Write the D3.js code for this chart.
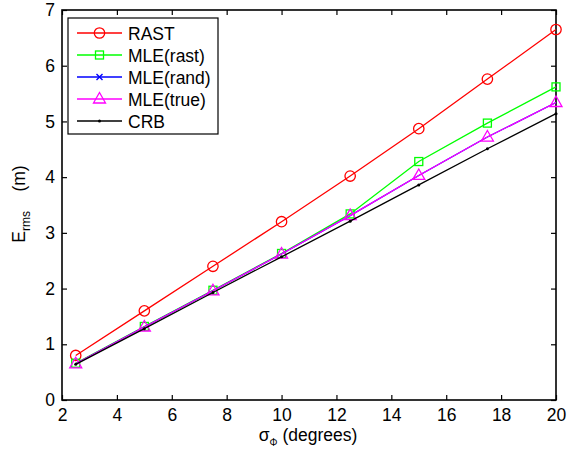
<!DOCTYPE html>
<html>
<head>
<meta charset="utf-8">
<script src="https://cdn.jsdelivr.net/npm/d3@7"></script>
<style>
body { margin: 0; background: #fff; }
text { font-family: "Liberation Sans", Arial, sans-serif; }
</style>
</head>
<body>
<script>
// sigma_phi values (degrees)
var sigmaDeg = [2.5, 5, 7.5, 10, 12.5, 15, 17.5, 20];

var rastVals    = [0.80, 1.60, 2.40, 3.20, 4.02, 4.87, 5.76, 6.65];
var mleRastVals = [0.66, 1.32, 1.97, 2.63, 3.34, 4.28, 4.97, 5.62];
var mleRandVals = [0.65, 1.31, 1.96, 2.62, 3.31, 4.03, 4.72, 5.34];
var mleTrueVals = [0.65, 1.31, 1.96, 2.62, 3.31, 4.03, 4.72, 5.34];
var crbVals     = [0.64, 1.28, 1.93, 2.57, 3.21, 3.86, 4.51, 5.14];

var xTicks = [2, 4, 6, 8, 10, 12, 14, 16, 18, 20];
var yTicks = [0, 1, 2, 3, 4, 5, 6, 7];

var seriesNames = ['RAST', 'MLE(rast)', 'MLE(rand)', 'MLE(true)', 'CRB'];
var seriesColors = ['#ff0000', '#00ff00', '#0000ff', '#ff00ff', '#000000'];
var seriesMarkers = ['circle', 'square', 'x', 'triangle', 'dot'];
var seriesValues = [rastVals, mleRastVals, mleRandVals, mleTrueVals, crbVals];

var W = 570, H = 451;
var pLeft = 62, pRight = 556, pTop = 10, pBottom = 400;

var svg = d3.select('body').append('svg')
	.attr('width', W)
	.attr('height', H);

var x = d3.scaleLinear().domain([2, 20]).range([pLeft, pRight]);
var y = d3.scaleLinear().domain([0, 7]).range([pBottom, pTop]);

var fontSize = '17.5px';

// axes, ticks inward on all four sides
var axB = d3.axisBottom(x).tickValues(xTicks).tickSizeInner(-5).tickSizeOuter(0).tickPadding(9).tickFormat(d3.format('d'));
var axT = d3.axisTop(x).tickValues(xTicks).tickSizeInner(-5).tickSizeOuter(0).tickFormat('');
var axL = d3.axisLeft(y).tickValues(yTicks).tickSizeInner(-5).tickSizeOuter(0).tickPadding(7).tickFormat(d3.format('d'));
var axR = d3.axisRight(y).tickValues(yTicks).tickSizeInner(-5).tickSizeOuter(0).tickFormat('');

var gB = svg.append('g').attr('transform', 'translate(0,' + pBottom + ')').call(axB);
var gT = svg.append('g').attr('transform', 'translate(0,' + pTop + ')').call(axT);
var gL = svg.append('g').attr('transform', 'translate(' + pLeft + ',0)').call(axL);
var gR = svg.append('g').attr('transform', 'translate(' + pRight + ',0)').call(axR);

[gB, gT, gL, gR].forEach(function(g){
	g.select('.domain').remove();
	g.selectAll('line').attr('stroke', '#000').attr('stroke-width', 1.2);
	g.selectAll('text').attr('fill', '#000').style('font-size', fontSize)
		.style('font-family', '"Liberation Sans", Arial, sans-serif');
});

svg.append('rect')
	.attr('x', pLeft).attr('y', pTop)
	.attr('width', pRight - pLeft).attr('height', pBottom - pTop)
	.attr('fill', 'none').attr('stroke', '#000').attr('stroke-width', 1.6);

var line = d3.line()
	.x(function(d){ return x(d[0]); })
	.y(function(d){ return y(d[1]); });

var drawMarker = function(g, type, color, cx, cy){
	if(type == 'circle'){
		g.append('circle').attr('cx', cx).attr('cy', cy).attr('r', 5.2)
			.attr('fill', 'none').attr('stroke', color).attr('stroke-width', 1.3);
	}
	if(type == 'square'){
		g.append('rect').attr('x', cx - 4).attr('y', cy - 4).attr('width', 8).attr('height', 8)
			.attr('fill', 'none').attr('stroke', color).attr('stroke-width', 1.3);
	}
	if(type == 'x'){
		g.append('path').attr('d', 'M' + (cx - 3) + ',' + (cy - 3) + 'L' + (cx + 3) + ',' + (cy + 3) +
			'M' + (cx - 3) + ',' + (cy + 3) + 'L' + (cx + 3) + ',' + (cy - 3))
			.attr('stroke', color).attr('stroke-width', 1.4);
	}
	if(type == 'triangle'){
		g.append('path').attr('d', 'M' + cx + ',' + (cy - 6.5) + 'L' + (cx + 6) + ',' + (cy + 4) +
			'L' + (cx - 6) + ',' + (cy + 4) + 'Z')
			.attr('fill', 'none').attr('stroke', color).attr('stroke-width', 1.3);
	}
	if(type == 'dot'){
		g.append('circle').attr('cx', cx).attr('cy', cy).attr('r', 1.5).attr('fill', color);
	}
};

// MLE(rand) coincides with MLE(true) and is fully hidden in the figure,
// so its markers are left out of the plot (line kept, underneath)
var plot = svg.append('g');
seriesValues.forEach(function(vals, i){
	var pts = sigmaDeg.map(function(s, j){ return [s, vals[j]]; });
	var g = plot.append('g');
	g.append('path').datum(pts).attr('d', line)
		.attr('fill', 'none').attr('stroke', seriesColors[i]).attr('stroke-width', 1.3);
	if(seriesMarkers[i] == 'x') { return; }
	pts.forEach(function(p){
		drawMarker(g, seriesMarkers[i], seriesColors[i], x(p[0]), y(p[1]));
	});
});

// legend
var leg = svg.append('g');
leg.append('rect').attr('x', 68).attr('y', 18).attr('width', 150).attr('height', 116)
	.attr('fill', '#fff').attr('stroke', '#000').attr('stroke-width', 1.2);
seriesNames.forEach(function(name, i){
	var ly = 33 + i * 22;
	leg.append('line').attr('x1', 77).attr('x2', 122).attr('y1', ly).attr('y2', ly)
		.attr('stroke', seriesColors[i]).attr('stroke-width', 1.3);
	drawMarker(leg, seriesMarkers[i], seriesColors[i], 99.5, ly);
	leg.append('text').attr('x', 128).attr('y', ly + 6.5).style('font-size', fontSize).text(name);
});

// axis labels
var xl = svg.append('text').attr('x', 308).attr('y', 441).attr('text-anchor', 'middle')
	.style('font-size', fontSize);
xl.append('tspan').text('σ');
xl.append('tspan').attr('dy', 5).style('font-size', '10px').text('Φ');
xl.append('tspan').attr('dy', -5).text(' (degrees)');

var yl = svg.append('text').attr('transform', 'translate(25,204) rotate(-90)').attr('text-anchor', 'middle')
	.style('font-size', fontSize);
yl.append('tspan').text('E');
yl.append('tspan').attr('dy', 5).style('font-size', '12px').text('rms');
yl.append('tspan').attr('dy', -5).text('\u00a0\u00a0\u00a0\u00a0(m)');
</script>
</body>
</html>
